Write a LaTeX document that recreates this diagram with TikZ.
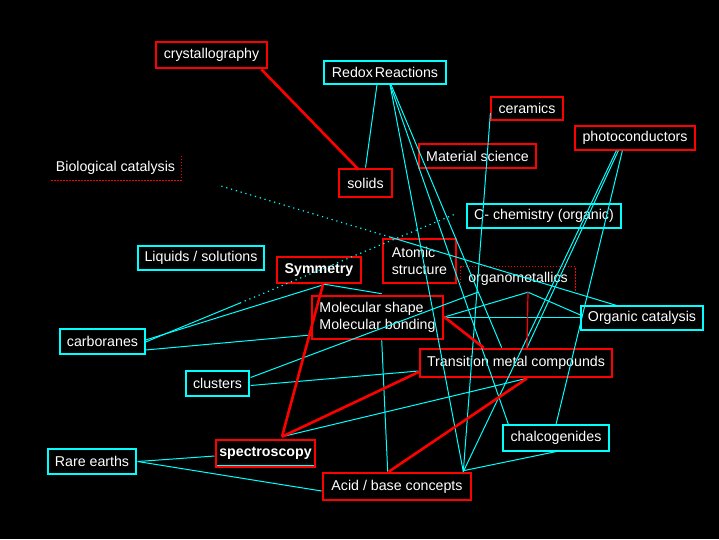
\documentclass[tikz,border=0pt]{standalone}
\usepackage{fontspec}
\setmainfont{Liberation Sans}
\usetikzlibrary{calc}
\definecolor{cy}{RGB}{0,255,255}
\definecolor{rd}{RGB}{255,0,0}
\tikzset{
  base/.style={rectangle, inner sep=0pt, text=white, font=\fontsize{14.2}{17}\selectfont, align=center},
  redbox/.style={base, draw=rd, line width=2.6pt},
  thinred/.style={base, draw=rd, line width=1.2pt},
  cyanbox/.style={base, draw=cy, line width=1.2pt},
  cl/.style={draw=cy, line width=1pt},
  rl/.style={draw=rd, line width=2.6pt},
  rthin/.style={draw=rd, line width=1.2pt},
  dotline/.style={draw=cy, line width=1.2pt, dash pattern=on 1.2pt off 3.8pt},
  reddots/.style={draw=rd, line width=1.3pt, dash pattern=on 1.3pt off 1.7pt},
}
\begin{document}
\begin{tikzpicture}[x=1pt,y=-1pt]
\fill[black] (0,0) rectangle (719,539);
\useasboundingbox (0,0) rectangle (719,539);
% nodes
\node[redbox, minimum width=111pt, minimum height=26pt] (cryst) at (211.5,55) {crystallography};
\node[cyanbox, minimum width=122pt, minimum height=23pt] (redox) at (385,72.5) {Redox\kern2pt Reactions};
\node[thinred, minimum width=72pt, minimum height=23pt] (ceram) at (527,108.5) {ceramics};
\node[thinred, minimum width=120pt, minimum height=24pt] (photo) at (635,138) {photoconductors};
\node[thinred, minimum width=117pt, minimum height=24pt] (matsci) at (477.5,156) {Material science};
\node[redbox, minimum width=53pt, minimum height=28pt] (solids) at (365.5,183) {solids};
\node[base, minimum width=131pt, minimum height=24pt] (bio) at (115.5,168) {Biological catalysis};
\node[cyanbox, minimum width=154pt, minimum height=24pt] (cchem) at (544,216) {C- chemistry (organic)};
\node[cyanbox, minimum width=126pt, minimum height=24pt] (liquids) at (201,258) {Liquids / solutions};
\node[redbox, minimum width=84pt, minimum height=26pt, font=\fontsize{14.2}{17}\selectfont\bfseries] (symm) at (319,270) {Symmetry};
\node[redbox, minimum width=73pt, minimum height=44pt, align=left] (atomic) at (419.5,261) {Atomic\\structure};
\node[base, minimum width=114pt, minimum height=24pt] (organo) at (518,279) {organometallics};
\node[redbox, minimum width=131pt, minimum height=43pt, align=left] (molec) at (377.5,317.5) {Molecular shape\\Molecular bonding};
\node[cyanbox, minimum width=122pt, minimum height=24pt] (orgcat) at (642,318) {Organic catalysis};
\node[cyanbox, minimum width=85pt, minimum height=25pt] (carb) at (102.5,341.5) {carboranes};
\node[redbox, minimum width=192pt, minimum height=28pt] (tmc) at (516,363) {Transition metal compounds};
\node[cyanbox, minimum width=63pt, minimum height=25pt] (clusters) at (217.5,383.5) {clusters};
\node[cyanbox, minimum width=106pt, minimum height=26pt] (chalco) at (556,438) {chalcogenides};
\node[redbox, minimum width=99pt, minimum height=27pt, font=\fontsize{14.2}{17}\selectfont\bfseries] (spectro) at (265.5,453.5) {spectroscopy};
\node[cyanbox, minimum width=88pt, minimum height=25pt] (rare) at (92,461.5) {Rare earths};
\node[redbox, minimum width=148pt, minimum height=27pt] (acid) at (397,486.5) {Acid / base concepts};
% partial dotted borders
\draw[reddots] (bio.north east) -- (bio.south east) -- (bio.south west);
\draw[reddots] ($(organo.north west)+(0,16)$) -- (organo.north west) -- (organo.north east) -- (organo.south east);
\draw[cl] ($(spectro.south west)+(2,-3)$) -- ($(spectro.south east)+(-2,-3)$);
% cyan connectors
\draw[cl] ($(redox.south)+(-8,0)$) -- (solids.north);
\draw[cl] ($(redox.south)+(5,0)$) -- ($(acid.north east)+(-9,0)$);
\draw[cl] ($(redox.south)+(5,0)$) -- ($(chalco.north west)+(6,0)$);
\draw[cl] ($(redox.south)+(6,0)$) -- ($(tmc.north west)+(83,0)$);
\draw[cl] ($(ceram.west)+(0,4.5)$) -- ($(acid.north east)+(-9,0)$);
\draw[cl] ($(photo.south west)+(42,0)$) -- ($(acid.north east)+(-9,0)$);
\draw[cl] ($(photo.south west)+(44,0)$) -- ($(tmc.north)+(11,0)$);
\draw[cl] ($(photo.south west)+(48,0)$) -- (chalco.north);
\draw[cl] ($(molec.south west)+(71,0)$) -- ($(acid.north west)+(66,0)$);
\draw[cl] ($(molec.east)+(0,-0.5)$) -- ($(orgcat.west)+(0,-1)$);
\draw[cl] ($(molec.east)+(0,-0.5)$) -- ($(organo.south)+(10,1)$) -- ($(orgcat.north west)+(1,10)$);
\draw[cl] ($(clusters.east)+(1,-6)$) -- ($(organo.south west)+(17,1)$);
\draw[cl] ($(clusters.east)+(1,2)$) -- ($(tmc.west)+(0,8)$);
\draw[cl] ($(carb.east)+(0,-1.5)$) -- ($(symm.south)+(6,0)$);
\draw[cl] ($(carb.east)+(0,8.5)$) -- ($(molec.west)+(0,17.5)$);
\draw[cl] ($(symm.south)+(6,0)$) -- ($(molec.north west)+(71,-1)$);
\path ($(carb.east)+(0,0.5)$) coordinate (carbA) -- coordinate[pos=0.305] (carbM) ($(cchem.west)+(-11,-2)$) coordinate (carbB);
\draw[cl] (carbA) -- (carbM);
\draw[dotline] (carbM) -- (carbB);
\path ($(bio.east)+(0,6)$) coordinate (bioA) -- coordinate[pos=0.48] (bioM) ($(orgcat.north west)+(36,0)$) coordinate (bioB);
\draw[dotline, shorten <=42pt] (bioA) -- (bioM);
\draw[cl] (bioM) -- (bioB);
\draw[cl] ($(spectro.north)+(16.5,-2)$) -- ($(tmc.south)+(11,0)$);
\draw[cl] ($(rare.east)+(1,0)$) -- ($(spectro.west)+(0,2.5)$);
\draw[cl] ($(rare.east)+(1,0)$) -- ($(acid.west)+(0,4.5)$);
\draw[cl] ($(acid.north east)+(-9,-1)$) -- (chalco.south);
% red connectors
\draw[rl] ($(cryst.south east)+(-7,0)$) -- ($(solids.north west)+(21,2)$);
\draw[rl] ($(symm.south)+(4,0)$) -- ($(spectro.north)+(16.5,-2)$);
\draw[rl] ($(spectro.north)+(16.5,-2)$) -- ($(tmc.west)+(0,9)$);
\draw[rl] ($(molec.east)+(0,-0.5)$) -- ($(tmc.north west)+(65,0)$);
\draw[rl] ($(acid.north west)+(67,0)$) -- ($(tmc.south)+(11,0)$);
\draw[rthin] ($(organo.south)+(10,1)$) -- ($(tmc.north)+(11,0)$);
\end{tikzpicture}
\end{document}
